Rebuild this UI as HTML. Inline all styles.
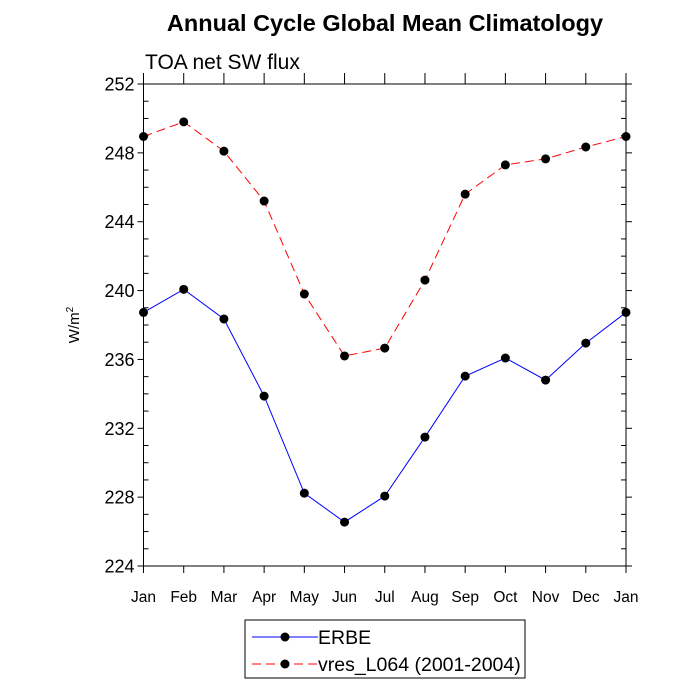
<!DOCTYPE html>
<html><head><meta charset="utf-8"><style>body{margin:0;background:#fff}svg{display:block}</style></head>
<body>
<svg id="c" width="700" height="700" xmlns="http://www.w3.org/2000/svg" font-family="'Liberation Sans', sans-serif">
<text x="385" y="31" text-anchor="middle" font-size="23.5" font-weight="bold">Annual Cycle Global Mean Climatology</text>
<text x="145" y="69" font-size="21">TOA net SW flux</text>
<text transform="translate(79,325) rotate(-90)" text-anchor="middle" font-size="15">W/m<tspan dy="-6" font-size="10">2</tspan></text>
<g id="axes"></g><g id="series"></g>
<g>
<rect x="245" y="620" width="280" height="58" fill="#fff" stroke="#000" stroke-width="1"/>
<line x1="252" y1="637" x2="318" y2="637" stroke="#00f" stroke-width="1"/>
<circle cx="285" cy="637" r="4.5" fill="#000"/>
<text x="318" y="644" font-size="19.5">ERBE</text>
<line x1="252" y1="664" x2="318" y2="664" stroke="#f00" stroke-width="1" stroke-dasharray="9,5"/>
<circle cx="285" cy="664" r="4.5" fill="#000"/>
<text x="318" y="671" font-size="19.5">vres_L064 (2001-2004)</text>
</g>
</svg>
<script>
const months=["Jan","Feb","Mar","Apr","May","Jun","Jul","Aug","Sep","Oct","Nov","Dec","Jan"];
const erbe=[238.73,240.07,238.35,233.87,228.23,226.55,228.06,231.49,235.03,236.08,234.8,236.95,238.73];
const vres=[248.95,249.8,248.1,245.2,239.8,236.2,236.66,240.61,245.6,247.3,247.65,248.34,248.95];
const yTicks=[224,228,232,236,240,244,248,252];
const NS="http://www.w3.org/2000/svg";
const L=143.5,R=626,T=84,B=566,ymin=224,ymax=252;
const xs=i=>L+(R-L)*i/(months.length-1);
const ys=v=>B-(v-ymin)/(ymax-ymin)*(B-T);
function mk(t,a,p){const e=document.createElementNS(NS,t);for(const k in a)e.setAttribute(k,a[k]);p.appendChild(e);return e;}
const ax=document.getElementById('axes');
const frame=mk('rect',{x:L,y:T,width:R-L,height:B-T,fill:'none',stroke:'#000','stroke-width':1},ax);


for(let v=ymin;v<=ymax;v++){
  const y=ys(v),maj=yTicks.includes(v);
  mk('line',{x1:L-(maj?6:0),x2:L+(maj?0:5),y1:y,y2:y,stroke:'#000'},ax);
  mk('line',{x1:R+(maj?6:0),x2:R-(maj?0:5),y1:y,y2:y,stroke:'#000'},ax);
}
yTicks.forEach(v=>{
  const t=mk('text',{x:L-9,y:ys(v)+6.5,'text-anchor':'end','font-size':18},ax);
  t.textContent=v;
  
  
});
months.forEach((m,i)=>{
  const x=xs(i);
  mk('line',{x1:x,x2:x,y1:B,y2:B+7,stroke:'#000'},ax);
  mk('line',{x1:x,x2:x,y1:T,y2:T-11,stroke:'#000'},ax);
  const t=mk('text',{x:x,y:B+36,'text-anchor':'middle','font-size':15.5},ax);
  t.textContent=m;
  
  
});
const sg=document.getElementById('series');
function draw(arr,color,dash,name){
  const pl=mk('polyline',{points:arr.map((v,i)=>xs(i)+','+ys(v)).join(' '),fill:'none',stroke:color,'stroke-width':1,'stroke-dasharray':dash},sg);
  
  
  arr.forEach((v,i)=>{
    const c=mk('circle',{cx:xs(i),cy:ys(v),r:4.5,fill:'#000'},sg);
    
    
  });
}
draw(vres,'#f00','9,5','vres');
draw(erbe,'#00f','none','erbe');
</script>
</body></html>
